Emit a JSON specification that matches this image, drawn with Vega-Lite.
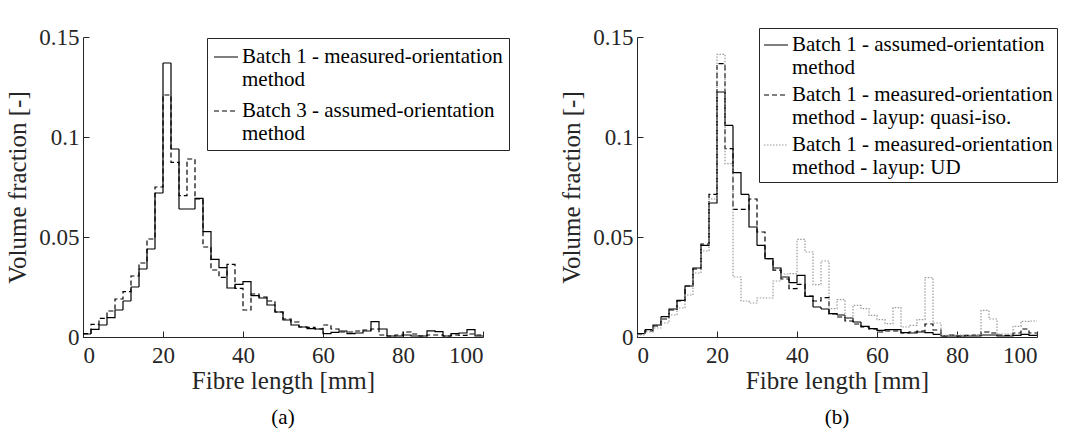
{
  "$schema": "https://vega.github.io/schema/vega-lite/v6.json",
  "padding": {"left": 5, "top": 26, "right": 2, "bottom": 5},
  "config": {
    "font": "Liberation Serif",
    "view": {"stroke": null},
    "axis": {"domainColor": "#262626", "tickColor": "#262626", "labelColor": "#262626", "titleColor": "#262626", "grid": false, "labelFont": "Liberation Serif", "titleFont": "Liberation Serif", "labelFontSize": 23, "titleFontSize": 25, "titleFontWeight": "normal", "tickSize": -6, "domainWidth": 1, "tickWidth": 1},
    "axisX": {"labelPadding": 13, "titlePadding": 1},
    "axisY": {"labelPadding": 10, "titlePadding": 8},
    "legend": {"orient": "none", "strokeColor": "#262626", "fillColor": "white", "padding": 6, "labelFont": "Liberation Serif", "labelFontSize": 21, "labelColor": "#000", "symbolType": "stroke", "symbolSize": 576, "symbolStrokeWidth": 1.2, "rowPadding": 8, "labelOffset": 3, "title": null, "labelLimit": 400},
    "title": {"orient": "bottom", "font": "Liberation Serif", "fontSize": 21, "fontWeight": "normal", "color": "#000", "offset": 14}
  },
  "datasets": {
    "a": [
      {"x": 0, "m": 0.0015, "a3": 0.0017},
      {"x": 2, "m": 0.0038, "a3": 0.0063},
      {"x": 4, "m": 0.006, "a3": 0.0093},
      {"x": 6, "m": 0.0097, "a3": 0.013},
      {"x": 8, "m": 0.0135, "a3": 0.019},
      {"x": 10, "m": 0.018, "a3": 0.0227},
      {"x": 12, "m": 0.025, "a3": 0.0305},
      {"x": 14, "m": 0.034, "a3": 0.037},
      {"x": 16, "m": 0.044, "a3": 0.049},
      {"x": 18, "m": 0.072, "a3": 0.075},
      {"x": 20, "m": 0.137, "a3": 0.121},
      {"x": 22, "m": 0.094, "a3": 0.0873},
      {"x": 24, "m": 0.064, "a3": 0.0707},
      {"x": 26, "m": 0.064, "a3": 0.089},
      {"x": 28, "m": 0.0693, "a3": 0.069},
      {"x": 30, "m": 0.0527, "a3": 0.045},
      {"x": 32, "m": 0.0388, "a3": 0.0335},
      {"x": 34, "m": 0.0347, "a3": 0.0298},
      {"x": 36, "m": 0.0245, "a3": 0.0363},
      {"x": 38, "m": 0.0263, "a3": 0.0243},
      {"x": 40, "m": 0.0277, "a3": 0.0135},
      {"x": 42, "m": 0.0207, "a3": 0.0215},
      {"x": 44, "m": 0.0195, "a3": 0.02},
      {"x": 46, "m": 0.016, "a3": 0.018},
      {"x": 48, "m": 0.0125, "a3": 0.0125},
      {"x": 50, "m": 0.0085, "a3": 0.009},
      {"x": 52, "m": 0.006, "a3": 0.0075},
      {"x": 54, "m": 0.005, "a3": 0.005},
      {"x": 56, "m": 0.0042, "a3": 0.0048},
      {"x": 58, "m": 0.004, "a3": 0.004},
      {"x": 60, "m": 0.0017, "a3": 0.006},
      {"x": 62, "m": 0.0023, "a3": 0.004},
      {"x": 64, "m": 0.003, "a3": 0.0025},
      {"x": 66, "m": 0.0017, "a3": 0.0025},
      {"x": 68, "m": 0.002, "a3": 0.003},
      {"x": 70, "m": 0.003, "a3": 0.0035},
      {"x": 72, "m": 0.0077, "a3": 0.004},
      {"x": 74, "m": 0.004, "a3": 0.001},
      {"x": 76, "m": 0.0005, "a3": 0.0005},
      {"x": 78, "m": 0.0005, "a3": 0.001},
      {"x": 80, "m": 0.001, "a3": 0.0025},
      {"x": 82, "m": 0.0005, "a3": 0.0015},
      {"x": 84, "m": 0.0005, "a3": 0.0005},
      {"x": 86, "m": 0.0031, "a3": 0.001},
      {"x": 88, "m": 0.0027, "a3": 0.001},
      {"x": 90, "m": 0.0005, "a3": 0.0005},
      {"x": 92, "m": 0.0017, "a3": 0.001},
      {"x": 94, "m": 0.002, "a3": 0.0008},
      {"x": 96, "m": 0.0037, "a3": 0.0015},
      {"x": 98, "m": 0.0005, "a3": 0.001},
      {"x": 100, "m": 0.0005, "a3": 0.001}
    ],
    "b": [
      {"x": 0, "ass": 0.0017, "qi": 0.0015, "ud": 0.001},
      {"x": 2, "ass": 0.0037, "qi": 0.003, "ud": 0.0025},
      {"x": 4, "ass": 0.006, "qi": 0.0055, "ud": 0.0045},
      {"x": 6, "ass": 0.0102, "qi": 0.009, "ud": 0.007},
      {"x": 8, "ass": 0.014, "qi": 0.0135, "ud": 0.011},
      {"x": 10, "ass": 0.0183, "qi": 0.018, "ud": 0.0145},
      {"x": 12, "ass": 0.0255, "qi": 0.0255, "ud": 0.021},
      {"x": 14, "ass": 0.0345, "qi": 0.034, "ud": 0.032},
      {"x": 16, "ass": 0.0458, "qi": 0.0465, "ud": 0.043},
      {"x": 18, "ass": 0.067, "qi": 0.0713, "ud": 0.069},
      {"x": 20, "ass": 0.1225, "qi": 0.1367, "ud": 0.1413},
      {"x": 22, "ass": 0.1058, "qi": 0.0942, "ud": 0.0867},
      {"x": 24, "ass": 0.0822, "qi": 0.0638, "ud": 0.03},
      {"x": 26, "ass": 0.0713, "qi": 0.0638, "ud": 0.018},
      {"x": 28, "ass": 0.055, "qi": 0.069, "ud": 0.017},
      {"x": 30, "ass": 0.0458, "qi": 0.0525, "ud": 0.0195},
      {"x": 32, "ass": 0.0392, "qi": 0.0392, "ud": 0.0195},
      {"x": 34, "ass": 0.0345, "qi": 0.0334, "ud": 0.028},
      {"x": 36, "ass": 0.03, "qi": 0.029, "ud": 0.0315},
      {"x": 38, "ass": 0.0272, "qi": 0.0242, "ud": 0.0317},
      {"x": 40, "ass": 0.0308, "qi": 0.0263, "ud": 0.0488},
      {"x": 42, "ass": 0.0203, "qi": 0.0205, "ud": 0.0425},
      {"x": 44, "ass": 0.015, "qi": 0.018, "ud": 0.0262},
      {"x": 46, "ass": 0.014, "qi": 0.0197, "ud": 0.038},
      {"x": 48, "ass": 0.0117, "qi": 0.0115, "ud": 0.0142},
      {"x": 50, "ass": 0.011, "qi": 0.01, "ud": 0.0187},
      {"x": 52, "ass": 0.0095, "qi": 0.008, "ud": 0.0095},
      {"x": 54, "ass": 0.0075, "qi": 0.0065, "ud": 0.0158},
      {"x": 56, "ass": 0.0053, "qi": 0.005, "ud": 0.0142},
      {"x": 58, "ass": 0.0042, "qi": 0.004, "ud": 0.0108},
      {"x": 60, "ass": 0.0033, "qi": 0.0025, "ud": 0.0087},
      {"x": 62, "ass": 0.0037, "qi": 0.003, "ud": 0.0067},
      {"x": 64, "ass": 0.0037, "qi": 0.003, "ud": 0.0147},
      {"x": 66, "ass": 0.0022, "qi": 0.002, "ud": 0.005},
      {"x": 68, "ass": 0.002, "qi": 0.0025, "ud": 0.0058},
      {"x": 70, "ass": 0.0025, "qi": 0.003, "ud": 0.0087},
      {"x": 72, "ass": 0.0022, "qi": 0.0065, "ud": 0.0297},
      {"x": 74, "ass": 0.0013, "qi": 0.0035, "ud": 0.007},
      {"x": 76, "ass": 0.0005, "qi": 0.0005, "ud": 0.0008},
      {"x": 78, "ass": 0.0005, "qi": 0.001, "ud": 0.001},
      {"x": 80, "ass": 0.0005, "qi": 0.0005, "ud": 0.001},
      {"x": 82, "ass": 0.0005, "qi": 0.0008, "ud": 0.001},
      {"x": 84, "ass": 0.0005, "qi": 0.001, "ud": 0.0012},
      {"x": 86, "ass": 0.001, "qi": 0.0025, "ud": 0.0133},
      {"x": 88, "ass": 0.001, "qi": 0.002, "ud": 0.009},
      {"x": 90, "ass": 0.0005, "qi": 0.001, "ud": 0.0015},
      {"x": 92, "ass": 0.0005, "qi": 0.0008, "ud": 0.0015},
      {"x": 94, "ass": 0.0008, "qi": 0.002, "ud": 0.0053},
      {"x": 96, "ass": 0.0013, "qi": 0.004, "ud": 0.0078},
      {"x": 98, "ass": 0.0008, "qi": 0.002, "ud": 0.008},
      {"x": 100, "ass": 0.0008, "qi": 0.002, "ud": 0.008}
    ]
  },
  "spacing": 49,
  "resolve": {"scale": {"color": "independent", "strokeDash": "independent"}, "legend": {"color": "independent", "strokeDash": "independent"}},
  "hconcat": [
    {
      "width": 400,
      "height": 300,
      "title": "(a)",
      "data": {"name": "a"},
      "transform": [{"fold": ["m", "a3"], "as": ["series", "value"]}],
      "mark": {"type": "line", "interpolate": "step-after", "strokeWidth": 1.2, "clip": true},
      "encoding": {
        "x": {"field": "x", "type": "quantitative", "scale": {"domain": [0, 100], "nice": false}, "axis": {"values": [0, 20, 40, 60, 80, 100], "title": "Fibre length [mm]"}},
        "y": {"field": "value", "type": "quantitative", "scale": {"domain": [0, 0.15], "nice": false}, "axis": {"values": [0, 0.05, 0.1, 0.15], "format": ".2~f", "title": "Volume fraction [-]"}},
        "color": {"field": "series", "type": "nominal", "scale": {"domain": ["m", "a3"], "range": ["#000000", "#000000"]}, "legend": {"legendX": 124, "legendY": 1, "labelExpr": "datum.label == 'm' ? ['Batch 1 - measured-orientation', 'method'] : ['Batch 3 - assumed-orientation', 'method']"}},
        "strokeDash": {"field": "series", "type": "nominal", "scale": {"domain": ["m", "a3"], "range": [[1, 0], [5, 3]]}, "legend": {"legendX": 124, "legendY": 1, "labelExpr": "datum.label == 'm' ? ['Batch 1 - measured-orientation', 'method'] : ['Batch 3 - assumed-orientation', 'method']"}}
      }
    },
    {
      "width": 400,
      "height": 300,
      "title": "(b)",
      "data": {"name": "b"},
      "transform": [{"fold": ["ass", "qi", "ud"], "as": ["series", "value"]}],
      "mark": {"type": "line", "interpolate": "step-after", "strokeWidth": 1.2, "clip": true},
      "encoding": {
        "x": {"field": "x", "type": "quantitative", "scale": {"domain": [0, 100], "nice": false}, "axis": {"values": [0, 20, 40, 60, 80, 100], "title": "Fibre length [mm]"}},
        "y": {"field": "value", "type": "quantitative", "scale": {"domain": [0, 0.15], "nice": false}, "axis": {"values": [0, 0.05, 0.1, 0.15], "format": ".2~f", "title": "Volume fraction [-]"}},
        "color": {"field": "series", "type": "nominal", "scale": {"domain": ["ass", "qi", "ud"], "range": ["#000000", "#000000", "#999999"]}, "legend": {"legendX": 122, "legendY": -9, "rowPadding": 4, "padding": 4, "labelExpr": "datum.label == 'ass' ? ['Batch 1 - assumed-orientation', 'method'] : datum.label == 'qi' ? ['Batch 1 - measured-orientation', 'method - layup: quasi-iso.'] : ['Batch 1 - measured-orientation', 'method - layup: UD']"}},
        "strokeDash": {"field": "series", "type": "nominal", "scale": {"domain": ["ass", "qi", "ud"], "range": [[1, 0], [5, 3], [1.5, 1.5]]}, "legend": {"legendX": 122, "legendY": -9, "rowPadding": 4, "padding": 4, "labelExpr": "datum.label == 'ass' ? ['Batch 1 - assumed-orientation', 'method'] : datum.label == 'qi' ? ['Batch 1 - measured-orientation', 'method - layup: quasi-iso.'] : ['Batch 1 - measured-orientation', 'method - layup: UD']"}}
      }
    }
  ]
}
